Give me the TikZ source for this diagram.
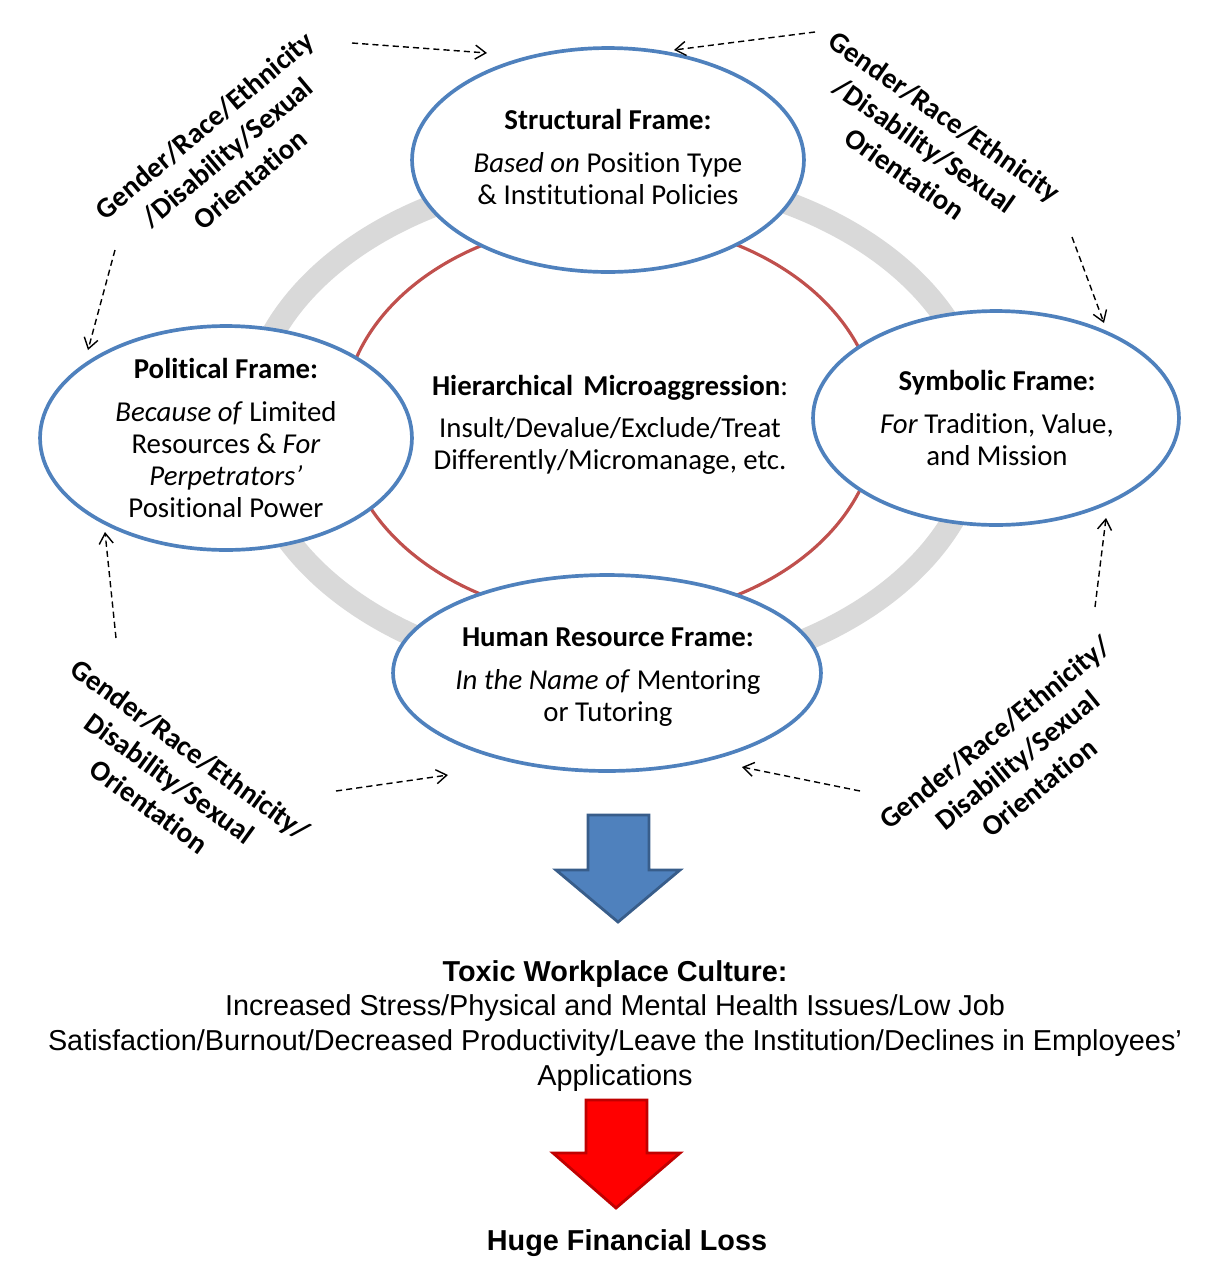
\documentclass[tikz,border=0pt]{standalone}
\usepackage{fontspec}
\setmainfont{Carlito}[Ligatures=NoCommon]
\newfontfamily\arialfont{Liberation Sans}
\usetikzlibrary{shapes.geometric, arrows.meta}

\definecolor{frameblue}{HTML}{4F81BD}
\definecolor{ringgray}{HTML}{D9D9D9}
\definecolor{microred}{HTML}{C0504D}
\definecolor{downblueedge}{HTML}{385D8A}
\definecolor{lossred}{HTML}{FF0000}
\definecolor{lossrededge}{HTML}{C00000}

\begin{document}
\begin{tikzpicture}[x=0.02cm, y=-0.02cm,
  frame/.style = {draw=frameblue, line width=2.1pt, fill=white, ellipse, inner sep=0pt},
  frametext/.style = {align=center, font=\fontsize{16.4}{18.2}\selectfont},
  factor/.style = {align=center, font=\fontsize{16.4}{20}\selectfont\bfseries},
  influence/.style = {-{Straight Barb[length=6pt,width=8pt]}, line width=0.8pt, dash pattern=on 3.5pt off 2.3pt},
  outcome/.style = {align=center, font=\arialfont\fontsize{16.4}{19.9}\selectfont}]
\useasboundingbox (0,0) rectangle (1231,1272);

% rings behind the frames
\draw[ringgray, line width=13pt] (614,425) ellipse [x radius=7.32cm, y radius=5.04cm];
\draw[microred, line width=1.8pt] (610,420) ellipse [x radius=5.34cm, y radius=3.98cm];

% the four frames
\node[frame, minimum width=7.84cm, minimum height=4.48cm] (structural) at (608,160) {};
\node[frame, minimum width=7.44cm, minimum height=4.48cm] (political) at (226,438) {};
\node[frame, minimum width=7.32cm, minimum height=4.28cm] (symbolic) at (996,418) {};
\node[frame, minimum width=8.56cm, minimum height=3.92cm] (human) at (607,673) {};

\node[frametext] (structural-text) at (608,157)
  {\textbf{Structural Frame:}\\[6pt]\textit{Based on} Position Type\\\& Institutional Policies};
\node[frametext] (political-text) at (226,438)
  {\textbf{Political Frame:}\\[6pt]\textit{Because of} Limited\\Resources \& \textit{For}\\\textit{Perpetrators’}\\Positional Power};
\node[frametext] (symbolic-text) at (997,418)
  {\textbf{Symbolic Frame:}\\[6pt]\textit{For} Tradition, Value,\\and Mission};
\node[frametext] (human-text) at (608,677)
  {\textbf{Human Resource Frame:}\\[6pt]\textit{In the Name of} Mentoring\\or Tutoring};
\node[frametext] (micro) at (610,425)
  {\textbf{Hierarchical\hspace{0.35em}Microaggression}:\\[6pt]Insult/Devalue/Exclude/Treat\\Differently/Micromanage, etc.};

% identity labels
\node[factor, rotate=40] (idtl) at (227,152) {Gender/Race/Ethnicity\\/Disability/Sexual\\Orientation};
\node[factor, rotate=-35] (idtr) at (925,145) {Gender/Race/Ethnicity\\/Disability/Sexual\\Orientation};
\node[factor, rotate=-36] (idbl) at (170,778) {Gender/Race/Ethnicity/\\Disability/Sexual\\Orientation};
\node[factor, rotate=39] (idbr) at (1017,760) {Gender/Race/Ethnicity/\\Disability/Sexual\\Orientation};

% dashed influence arrows
\coordinate (tl1) at (352,43);   \coordinate (st1) at (487,53);
\coordinate (tr1) at (815,32);   \coordinate (st2) at (674,50);
\coordinate (tl2) at (115,250);  \coordinate (po1) at (88,350);
\coordinate (tr2) at (1072,237); \coordinate (sy1) at (1104,323);
\coordinate (bl1) at (116,638);  \coordinate (po2) at (105,532);
\coordinate (br1) at (1095,607); \coordinate (sy2) at (1106,518);
\coordinate (bl2) at (336,791);  \coordinate (hr1) at (448,775);
\coordinate (br2) at (860,791);  \coordinate (hr2) at (742,767);
\draw[influence] (tl1) -- (st1);
\draw[influence] (tr1) -- (st2);
\draw[influence] (tl2) -- (po1);
\draw[influence] (tr2) -- (sy1);
\draw[influence] (bl1) -- (po2);
\draw[influence] (br1) -- (sy2);
\draw[influence] (bl2) -- (hr1);
\draw[influence] (br2) -- (hr2);

% block arrows and outcomes
\draw[fill=frameblue, draw=downblueedge, line width=1.6pt]
  (588,815) -- (649,815) -- (649,870) -- (680,870) -- (618,922) -- (556,870) -- (588,870) -- cycle;
\node[outcome] (toxic) at (615,1026)
  {\textbf{Toxic Workplace Culture:}\\Increased Stress/Physical and Mental Health Issues/Low Job\\Satisfaction/Burnout/Decreased Productivity/Leave the Institution/Declines in Employees’\\Applications};
\draw[fill=lossred, draw=lossrededge, line width=1.6pt]
  (586,1100) -- (647,1100) -- (647,1153) -- (680,1153) -- (616,1208) -- (553,1153) -- (586,1153) -- cycle;
\node[outcome, font=\arialfont\fontsize{16.4}{19.9}\selectfont\bfseries] (loss) at (627,1243) {Huge Financial Loss};
\end{tikzpicture}
\end{document}
